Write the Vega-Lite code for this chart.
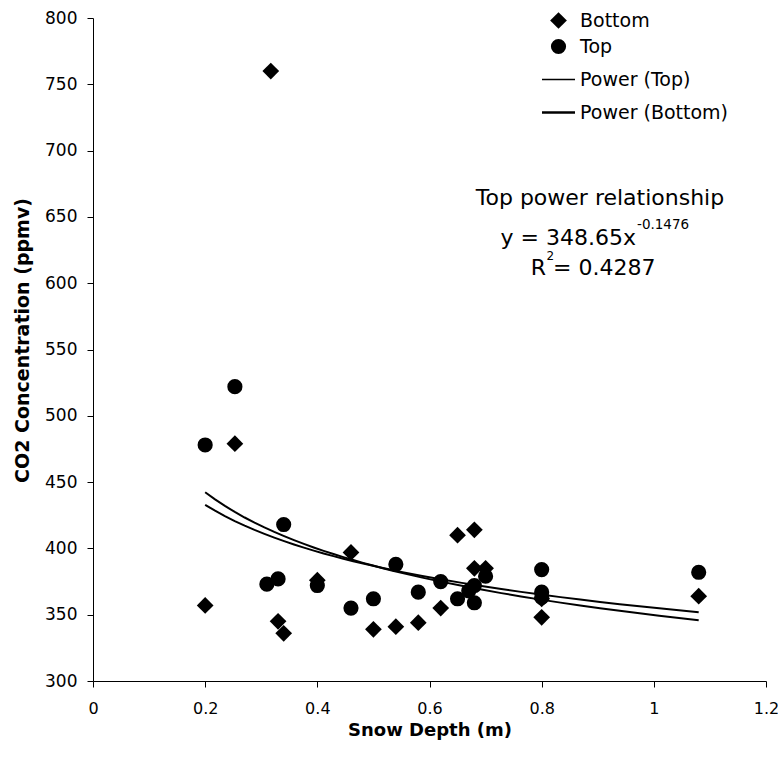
{
  "$schema": "https://vega.github.io/schema/vega-lite/v6.json",
  "width": 673,
  "height": 663,
  "autosize": {"type": "none"},
  "padding": {"left": 93, "top": 18, "right": 12, "bottom": 76},
  "background": "white",
  "config": {
    "view": {"stroke": null},
    "font": "DejaVu Sans",
    "axis": {"grid": false, "domainColor": "black", "tickColor": "black", "labelColor": "black", "titleColor": "black", "labelFont": "DejaVu Sans", "titleFont": "DejaVu Sans"}
  },
  "datasets": {
    "points": [
      {"depth": 0.2, "co2": 357, "series": "Bottom"},
      {"depth": 0.253, "co2": 479, "series": "Bottom"},
      {"depth": 0.317, "co2": 760, "series": "Bottom"},
      {"depth": 0.33, "co2": 345, "series": "Bottom"},
      {"depth": 0.34, "co2": 336, "series": "Bottom"},
      {"depth": 0.4, "co2": 376, "series": "Bottom"},
      {"depth": 0.46, "co2": 397, "series": "Bottom"},
      {"depth": 0.5, "co2": 339, "series": "Bottom"},
      {"depth": 0.54, "co2": 341, "series": "Bottom"},
      {"depth": 0.58, "co2": 344, "series": "Bottom"},
      {"depth": 0.62, "co2": 355, "series": "Bottom"},
      {"depth": 0.65, "co2": 410, "series": "Bottom"},
      {"depth": 0.68, "co2": 414, "series": "Bottom"},
      {"depth": 0.68, "co2": 385, "series": "Bottom"},
      {"depth": 0.7, "co2": 385, "series": "Bottom"},
      {"depth": 0.8, "co2": 348, "series": "Bottom"},
      {"depth": 0.8, "co2": 362, "series": "Bottom"},
      {"depth": 1.08, "co2": 364, "series": "Bottom"},
      {"depth": 0.2, "co2": 478, "series": "Top"},
      {"depth": 0.253, "co2": 522, "series": "Top"},
      {"depth": 0.31, "co2": 373, "series": "Top"},
      {"depth": 0.33, "co2": 377, "series": "Top"},
      {"depth": 0.34, "co2": 418, "series": "Top"},
      {"depth": 0.4, "co2": 372, "series": "Top"},
      {"depth": 0.46, "co2": 355, "series": "Top"},
      {"depth": 0.5, "co2": 362, "series": "Top"},
      {"depth": 0.54, "co2": 388, "series": "Top"},
      {"depth": 0.58, "co2": 367, "series": "Top"},
      {"depth": 0.62, "co2": 375, "series": "Top"},
      {"depth": 0.65, "co2": 362, "series": "Top"},
      {"depth": 0.67, "co2": 368, "series": "Top"},
      {"depth": 0.68, "co2": 372, "series": "Top"},
      {"depth": 0.68, "co2": 359, "series": "Top"},
      {"depth": 0.7, "co2": 379, "series": "Top"},
      {"depth": 0.8, "co2": 384, "series": "Top"},
      {"depth": 0.8, "co2": 367, "series": "Top"},
      {"depth": 0.8, "co2": 363, "series": "Top"},
      {"depth": 1.08, "co2": 382, "series": "Top"}
    ]
  },
  "layer": [
    {
      "data": {"name": "points"},
      "mark": {"type": "point", "filled": true, "opacity": 1, "color": "black"},
      "encoding": {
        "x": {
          "field": "depth", "type": "quantitative",
          "scale": {"domain": [0, 1.2], "nice": false, "zero": false},
          "axis": {"title": "Snow Depth (m)", "values": [0, 0.2, 0.4, 0.6, 0.8, 1, 1.2], "format": "~g", "labelFontSize": 16, "tickSize": 6, "labelPadding": 13, "titleFontSize": 18, "titleFontWeight": "bold", "titlePadding": 5, "labelFlush": false}
        },
        "y": {
          "field": "co2", "type": "quantitative",
          "scale": {"domain": [300, 800], "nice": false, "zero": false},
          "axis": {"title": "CO2 Concentration (ppmv)", "values": [300, 350, 400, 450, 500, 550, 600, 650, 700, 750, 800], "labelFontSize": 17, "tickSize": 6, "labelPadding": 10, "titleFontSize": 19, "titleFontWeight": "bold", "titlePadding": 12, "titleY": 322}
        },
        "shape": {
          "field": "series", "type": "nominal",
          "scale": {"domain": ["Bottom", "Top", "Power (Top)", "Power (Bottom)"], "range": ["diamond", "circle", "M-1,-0.045L1,-0.045L1,0.045L-1,0.045Z", "M-1,-0.075L1,-0.075L1,0.075L-1,0.075Z"]},
          "legend": {
            "title": null, "orient": "none", "legendX": 449, "legendY": -7,
            "labelFont": "DejaVu Sans", "labelFontSize": 19, "labelColor": "black", "labelOffset": 5,
            "padding": 0, "rowPadding": 6,
            "symbolStrokeWidth": 0, "symbolFillColor": "black",
            "encode": {"symbols": {"update": {
              "fill": {"value": "black"},
              "opacity": {"value": 1}
            }}}
          }
        },
        "size": {
          "field": "series", "type": "nominal",
          "scale": {"type": "ordinal", "domain": ["Bottom", "Top", "Power (Top)", "Power (Bottom)"], "range": [280, 230, 1089, 1089]},
          "legend": {"title": null, "orient": "none", "legendX": 449, "legendY": -7}
        }
      }
    },
    {
      "data": {"name": "points"},
      "transform": [{"regression": "co2", "on": "depth", "method": "pow", "groupby": ["series"]}],
      "mark": {"type": "line", "color": "black", "strokeWidth": 2},
      "encoding": {
        "x": {"field": "depth", "type": "quantitative"},
        "y": {"field": "co2", "type": "quantitative"},
        "detail": {"field": "series", "type": "nominal"}
      }
    },
    {
      "data": {"values": [
        {"depth": 0.904, "co2": 664.3, "label": "Top power relationship"}
      ]},
      "mark": {"type": "text", "align": "center", "baseline": "middle", "fontSize": 22, "font": "DejaVu Sans", "color": "black"},
      "encoding": {"x": {"field": "depth", "type": "quantitative"}, "y": {"field": "co2", "type": "quantitative"}, "text": {"field": "label"}}
    },
    {
      "data": {"values": [
        {"depth": 0.9682, "co2": 634.1, "label": "y = 348.65x"},
        {"depth": 0.8077, "co2": 611.5, "label": "R"}
      ]},
      "mark": {"type": "text", "align": "right", "baseline": "middle", "fontSize": 22, "font": "DejaVu Sans", "color": "black"},
      "encoding": {"x": {"field": "depth", "type": "quantitative"}, "y": {"field": "co2", "type": "quantitative"}, "text": {"field": "label"}}
    },
    {
      "data": {"values": [
        {"depth": 0.8202, "co2": 611.5, "label": "= 0.4287"}
      ]},
      "mark": {"type": "text", "align": "left", "baseline": "middle", "fontSize": 22, "font": "DejaVu Sans", "color": "black"},
      "encoding": {"x": {"field": "depth", "type": "quantitative"}, "y": {"field": "co2", "type": "quantitative"}, "text": {"field": "label"}}
    },
    {
      "data": {"values": [
        {"depth": 0.970, "co2": 643.9, "label": "-0.1476"}
      ]},
      "mark": {"type": "text", "align": "left", "baseline": "middle", "fontSize": 13.5, "font": "DejaVu Sans", "color": "black"},
      "encoding": {"x": {"field": "depth", "type": "quantitative"}, "y": {"field": "co2", "type": "quantitative"}, "text": {"field": "label"}}
    },
    {
      "data": {"values": [
        {"depth": 0.8086, "co2": 620.5, "label": "2"}
      ]},
      "mark": {"type": "text", "align": "left", "baseline": "middle", "fontSize": 12, "font": "DejaVu Sans", "color": "black"},
      "encoding": {"x": {"field": "depth", "type": "quantitative"}, "y": {"field": "co2", "type": "quantitative"}, "text": {"field": "label"}}
    }
  ]
}
